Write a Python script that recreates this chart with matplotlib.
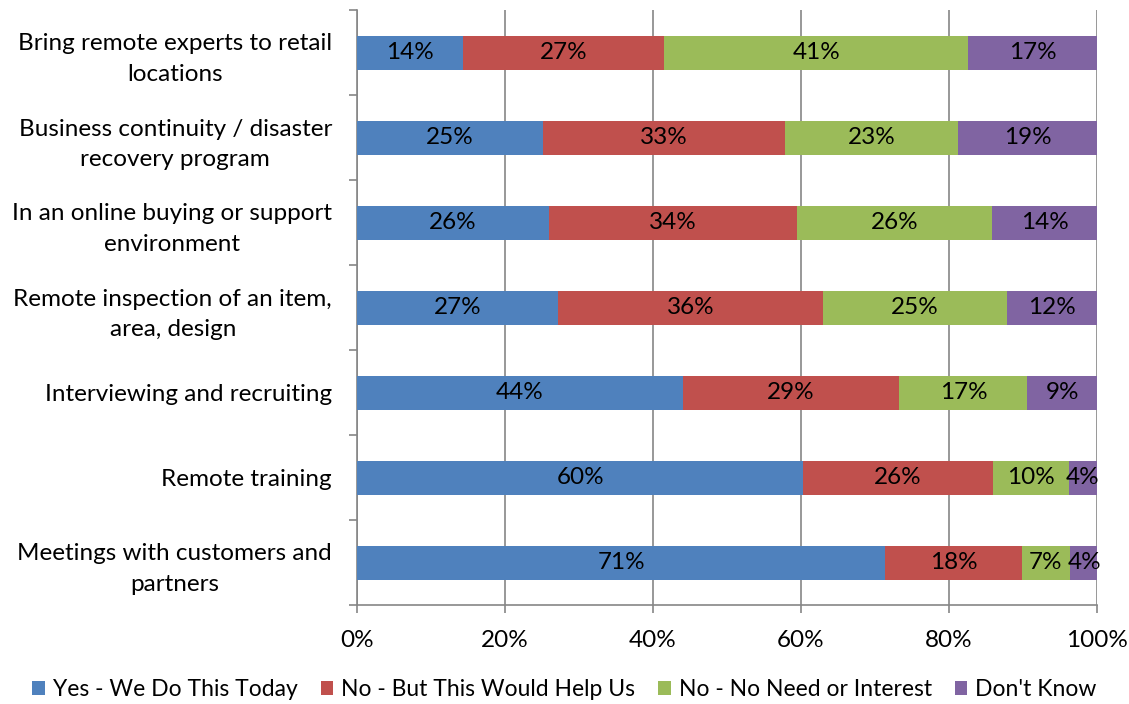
import matplotlib
matplotlib.use("Agg")
import matplotlib.pyplot as plt
import numpy as np

categories = [
    "Bring remote experts to retail\nlocations",
    "Business continuity / disaster\nrecovery program",
    "In an online buying or support\nenvironment",
    "Remote inspection of an item,\narea, design",
    "Interviewing and recruiting",
    "Remote training",
    "Meetings with customers and\npartners",
]
series_names = ["Yes - We Do This Today", "No - But This Would Help Us",
                "No - No Need or Interest", "Don't Know"]
yes_today = [14.3, 25.1, 25.9, 27.1, 44.0, 60.3, 71.4]
would_help = [27.2, 32.7, 33.6, 35.9, 29.3, 25.6, 18.4]
no_need = [41.1, 23.4, 26.3, 24.8, 17.3, 10.3, 6.6]
dont_know = [17.4, 18.8, 14.2, 12.2, 9.4, 3.8, 3.7]
x_ticks = [0, 20, 40, 60, 80, 100]
x_tick_labels = ["0%", "20%", "40%", "60%", "80%", "100%"]

colors = ["#4F81BD", "#C0504D", "#9BBB59", "#8064A2"]
plt.rcParams['font.family'] = ['Lato', 'DejaVu Sans']
FS = 17.5

fig = plt.figure(figsize=(11.29, 7.04), dpi=100)
ax = fig.add_axes([357/1129, 1-605/704, 740/1129, 595/704])

data = [yes_today, would_help, no_need, dont_know]
y = np.arange(len(categories))
left = np.zeros(len(categories))
for vals, col, name in zip(data, colors, series_names):
    vals = np.array(vals)
    ax.barh(y, vals, left=left, height=0.4, color=col, label=name, zorder=3)
    for yi, l, v in zip(y, left, vals):
        ax.text(l + v/2, yi, f"{int(round(v))}%", ha='center', va='center',
                fontsize=FS, color='black', zorder=4)
    left += vals

ax.set_xlim(0, 100)
ax.set_ylim(len(categories) - 0.5, -0.5)
ax.set_xticks(x_ticks)
ax.set_xticklabels(x_tick_labels, fontsize=FS)
ax.set_yticks(y)
ax.set_yticklabels(categories, fontsize=FS, multialignment='center', linespacing=1.55)
ax.tick_params(axis='y', length=0, pad=18)
ax.set_yticks(np.arange(-0.5, len(categories) + 0.5, 1), minor=True)
ax.tick_params(axis='y', which='minor', length=6, color='#868686', width=1.2)
ax.tick_params(axis='x', length=6, color='#868686', width=1.2, pad=12)
ax.xaxis.grid(True, color='#868686', linewidth=1.2, zorder=0)
for s in ['top', 'right']:
    ax.spines[s].set_visible(False)
for s in ['left', 'bottom']:
    ax.spines[s].set_color('#868686')
    ax.spines[s].set_linewidth(1.2)

fig.legend(loc='center', bbox_to_anchor=(0.5, 1-690/704), ncol=4, frameon=False,
           fontsize=16.5, handlelength=0.55, handleheight=0.55, handletextpad=0.35,
           columnspacing=1.0)

fig.savefig("out.png", dpi=100)
